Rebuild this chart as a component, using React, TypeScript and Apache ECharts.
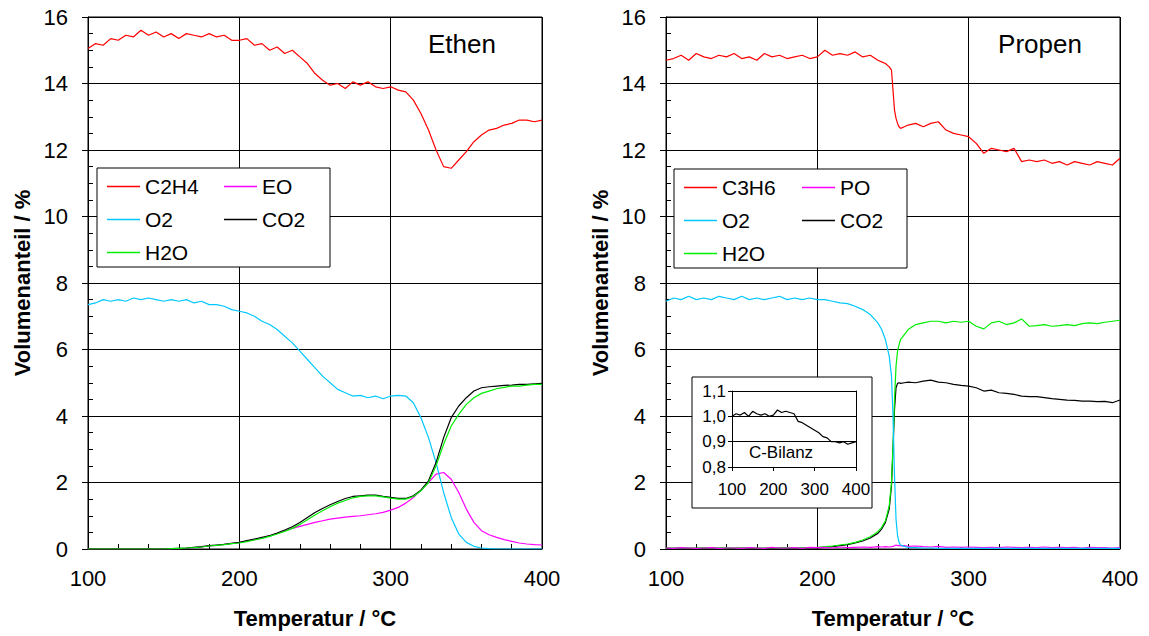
import React, { useEffect, useRef } from "react";
import * as echarts from "echarts";

// ---------- data ----------
const tempsL = [100,105,110,115,120,125,130,135,140,145,150,155,160,165,170,175,180,185,190,195,200,205,210,215,220,225,230,235,240,245,250,255,260,265,270,275,280,285,290,295,300,305,310,315,320,325,330,335,340,345,350,355,360,365,370,375,380,385,390,395,400];

const c2h4L = [15.05,15.2,15.15,15.35,15.3,15.45,15.4,15.6,15.45,15.55,
  15.4,15.5,15.35,15.5,15.45,15.4,15.5,15.4,15.45,15.3,
  15.3,15.35,15.15,15.2,15.0,15.1,14.9,15.0,14.8,14.6,
  14.3,14.1,13.95,14.0,13.85,14.05,13.95,14.05,13.9,13.85,
  13.9,13.8,13.75,13.5,13.1,12.6,12.0,11.5,11.45,11.7,
  11.95,12.25,12.45,12.6,12.65,12.75,12.8,12.9,12.9,12.85,
  12.9];
const o2L = [7.35,7.4,7.5,7.45,7.5,7.45,7.55,7.5,7.55,7.5,
  7.45,7.5,7.45,7.5,7.4,7.45,7.35,7.35,7.3,7.2,
  7.15,7.1,7.0,6.85,6.75,6.6,6.4,6.2,5.95,5.7,
  5.45,5.2,5.0,4.8,4.7,4.6,4.62,4.55,4.6,4.52,
  4.6,4.62,4.6,4.4,3.95,3.35,2.6,1.7,0.95,0.45,
  0.2,0.08,0.03,0.01,0,0,0,0,0,0,
  0];
const co2L = [0,0,0,0,0,0,0,0,0,0,
  0,0.01,0.02,0.03,0.05,0.07,0.1,0.12,0.14,0.17,
  0.2,0.25,0.3,0.35,0.4,0.48,0.57,0.67,0.8,0.95,
  1.1,1.22,1.33,1.43,1.52,1.58,1.6,1.62,1.62,1.58,
  1.55,1.52,1.52,1.6,1.77,2.05,2.6,3.35,3.95,4.3,
  4.55,4.75,4.85,4.88,4.9,4.92,4.93,4.95,4.95,4.97,
  4.98];
const h2oL = [0,0,0,0,0,0,0,0,0,0,
  0,0.01,0.02,0.03,0.04,0.06,0.09,0.11,0.13,0.16,
  0.18,0.22,0.27,0.32,0.38,0.45,0.53,0.62,0.74,0.88,
  1.02,1.15,1.27,1.38,1.46,1.54,1.58,1.6,1.6,1.57,
  1.53,1.5,1.5,1.58,1.75,2.0,2.5,3.15,3.7,4.05,
  4.35,4.55,4.68,4.75,4.82,4.86,4.9,4.9,4.93,4.95,
  4.95];
const eoL = [0,0,0,0,0,0,0,0,0,0,
  0,0,0.01,0.02,0.04,0.06,0.09,0.11,0.14,0.17,
  0.2,0.24,0.28,0.33,0.4,0.47,0.55,0.62,0.68,0.74,
  0.8,0.85,0.9,0.93,0.96,0.98,1.0,1.03,1.06,1.1,
  1.17,1.25,1.38,1.55,1.77,2.0,2.25,2.3,2.1,1.7,
  1.2,0.8,0.55,0.43,0.35,0.28,0.23,0.18,0.15,0.13,
  0.12];

const tempsR = [100,105,110,115,120,125,130,135,140,145,150,155,160,165,170,175,180,185,190,195,200,205,210,215,220,225,230,235,240,
  242.5,245,247.5,249,250,251,252,253,254,255,257.5,
  260,265,270,275,280,285,290,295,300,305,310,315,320,325,330,335,340,345,350,355,360,365,370,375,380,385,390,395,400];

const c3h6R = [14.7,14.75,14.85,14.7,14.9,14.8,14.75,14.85,14.8,14.9,
  14.75,14.8,14.7,14.9,14.8,14.85,14.75,14.8,14.85,14.75,
  14.8,15.0,14.85,14.9,14.85,14.95,14.8,14.85,14.7,
  14.65,14.6,14.5,14.4,13.8,13.2,12.95,12.8,12.7,12.65,12.7,
  12.75,12.8,12.7,12.8,12.85,12.6,12.5,12.45,12.4,12.2,
  11.9,12.05,12.0,11.95,12.05,11.65,11.7,11.65,11.7,11.6,
  11.65,11.55,11.65,11.6,11.55,11.65,11.6,11.55,11.75];
const o2R = [7.45,7.55,7.5,7.6,7.5,7.55,7.5,7.6,7.55,7.5,
  7.6,7.5,7.55,7.5,7.55,7.6,7.5,7.55,7.5,7.55,
  7.5,7.5,7.45,7.4,7.38,7.3,7.2,7.05,6.8,
  6.6,6.3,5.8,5.2,4.0,2.2,0.9,0.4,0.2,0.12,0.08,
  0.05,0.04,0.03,0.03,0.02,0.02,0.02,0.02,0.02,0.02,
  0.02,0.02,0.02,0.02,0.02,0.02,0.02,0.02,0.02,0.02,
  0.02,0.02,0.02,0.02,0.02,0.02,0.02,0.02,0.02];
const h2oR = [0.03,0.03,0.04,0.03,0.03,0.04,0.03,0.03,0.04,0.03,
  0.03,0.04,0.03,0.03,0.04,0.03,0.04,0.03,0.04,0.04,
  0.05,0.07,0.09,0.12,0.15,0.2,0.27,0.37,0.52,
  0.65,0.85,1.3,2.0,3.1,4.5,5.5,5.95,6.15,6.3,6.45,
  6.6,6.75,6.8,6.85,6.85,6.8,6.85,6.82,6.85,6.7,
  6.62,6.8,6.85,6.75,6.8,6.92,6.7,6.72,6.75,6.7,
  6.72,6.75,6.72,6.78,6.8,6.78,6.82,6.85,6.88];
const co2R = [0.02,0.02,0.03,0.02,0.02,0.02,0.03,0.02,0.02,0.02,
  0.03,0.02,0.02,0.02,0.02,0.03,0.02,0.02,0.02,0.03,
  0.03,0.05,0.07,0.1,0.13,0.18,0.24,0.33,0.47,
  0.6,0.8,1.2,1.9,3.0,4.2,4.85,4.98,5.0,4.98,5.0,
  5.02,5.0,5.05,5.08,5.02,5.0,4.95,4.92,4.9,4.85,
  4.75,4.78,4.7,4.68,4.65,4.6,4.58,4.58,4.55,4.52,
  4.5,4.48,4.47,4.45,4.45,4.43,4.44,4.4,4.48];
const poR = [0.03,0.02,0.04,0.03,0.02,0.03,0.04,0.02,0.03,0.03,
  0.02,0.04,0.03,0.02,0.05,0.03,0.03,0.04,0.02,0.05,
  0.04,0.05,0.03,0.06,0.04,0.05,0.06,0.05,0.07,
  0.06,0.07,0.06,0.07,0.08,0.1,0.12,0.1,0.11,0.09,0.1,
  0.08,0.09,0.07,0.06,0.08,0.05,0.06,0.05,0.06,0.05,
  0.04,0.05,0.04,0.06,0.05,0.04,0.05,0.04,0.06,0.04,
  0.05,0.04,0.05,0.03,0.05,0.04,0.04,0.03,0.04];

const tempsC = [100,110,120,130,140,150,160,170,180,190,200,210,220,230,240,250,260,270,280,290,300,310,320,330,340,350,360,370,380,390,400];
const cBilanz = [1.0,1.01,1.005,1.015,1.0,1.02,1.01,1.005,1.01,1.0,
  1.005,1.025,1.015,1.02,1.015,1.01,0.98,0.975,0.965,0.955,
  0.945,0.935,0.92,0.915,0.9,0.9,0.895,0.9,0.89,0.895,
  0.9];

const xTicks = [100, 400, 100]; // min, max, interval
const yTicks = [0, 16, 2];
const insetY = [0.8, 1.1, 0.1];

const COLORS: Record<string, string> = {
  C2H4: "#ff0000", C3H6: "#ff0000", EO: "#ff00ff", PO: "#ff00ff",
  O2: "#00c8ff", CO2: "#000000", H2O: "#00ee00",
};

const FONT = "'Liberation Sans', Arial, sans-serif";

function zip(xs: number[], ys: number[]) {
  return xs.map((x, i) => [x, ys[i]]);
}

export default function App() {
  const ref = useRef<HTMLDivElement>(null);
  useEffect(() => {
    document.body.style.margin = "0";
    const chart = echarts.init(ref.current!, undefined, { renderer: "svg" });

    const mainX = (gi: number) => ({
      gridIndex: gi, type: "value", min: xTicks[0], max: xTicks[1], interval: xTicks[2],
      axisLine: { show: true, lineStyle: { color: "#000", width: 1 } },
      axisTick: { show: false, inside: true },
      minorTick: { show: true, splitNumber: 5, length: 5, lineStyle: { color: "#000", width: 1 } },
      splitLine: { show: true, lineStyle: { color: "#000", width: 1 } },
      axisLabel: { fontSize: 22, color: "#000", margin: 18, fontFamily: FONT },
      name: "Temperatur / °C", nameLocation: "middle", nameGap: 58,
      nameTextStyle: { fontSize: 22, fontWeight: "bold", color: "#000", fontFamily: FONT },
    });
    const mainY = (gi: number) => ({
      gridIndex: gi, type: "value", min: yTicks[0], max: yTicks[1], interval: yTicks[2],
      axisLine: { show: true, lineStyle: { color: "#000", width: 1 } },
      axisTick: { show: true, inside: false, length: 6, lineStyle: { color: "#000" } },
      splitLine: { show: true, lineStyle: { color: "#000", width: 1 } },
      axisLabel: { fontSize: 22, color: "#000", margin: 20, fontFamily: FONT },
      name: "Volumenanteil / %", nameLocation: "middle", nameGap: 55,
      nameTextStyle: { fontSize: 22, fontWeight: "bold", color: "#000", fontFamily: FONT },
    });
    const minorY = (gi: number) => ({
      gridIndex: gi, type: "value", position: "left", min: yTicks[0], max: yTicks[1], interval: yTicks[2],
      axisLine: { show: false },
      axisTick: { show: false, inside: true },
      minorTick: { show: true, splitNumber: 4, length: 5, lineStyle: { color: "#000", width: 1 } },
      splitLine: { show: false },
      axisLabel: { show: false },
    });

    const line = (name: string, xs: number[], ys: number[], xi: number, yi: number, z = 2) => ({
      type: "line", name, data: zip(xs, ys), xAxisIndex: xi, yAxisIndex: yi,
      symbol: "none", showSymbol: false, z,
      lineStyle: { color: COLORS[name], width: 1.2 }, itemStyle: { color: COLORS[name] },
      emphasis: { disabled: true }, silent: true,
    });

    const legendBase = {
      orient: "vertical", icon: "rect", itemWidth: 33, itemHeight: 1.5, itemGap: 12, padding: 0,
      selectedMode: false, z: 10,
      textStyle: { fontSize: 21, color: "#000", lineHeight: 21, fontFamily: FONT },
    };

    const option: any = {
      animation: false,
      textStyle: { fontFamily: FONT },
      grid: [
        { left: 88, top: 17, width: 454, height: 532, show: true, borderColor: "#000", borderWidth: 1, backgroundColor: "#fff" },
        { left: 666, top: 17, width: 454, height: 532, show: true, borderColor: "#000", borderWidth: 1, backgroundColor: "#fff" },
        { left: 732, top: 391, width: 124, height: 76, z: 10 },
      ],
      xAxis: [
        mainX(0),
        mainX(1),
        {
          gridIndex: 2, type: "value", min: xTicks[0], max: xTicks[1], interval: xTicks[2], z: 10,
          axisLine: { show: true, lineStyle: { color: "#000", width: 1 } },
          axisTick: { show: true, length: 4, lineStyle: { color: "#000" } },
          splitLine: { show: false },
          axisLabel: { fontSize: 17, color: "#000", margin: 14, fontFamily: FONT },
        },
      ],
      yAxis: [
        mainY(0), minorY(0),
        mainY(1), minorY(1),
        {
          gridIndex: 2, type: "value", min: insetY[0], max: insetY[1], interval: insetY[2], z: 10,
          axisLine: { show: true, lineStyle: { color: "#000", width: 1 } },
          axisTick: { show: true, length: 4, lineStyle: { color: "#000" } },
          splitLine: { show: true, lineStyle: { color: "#000", width: 1 } },
          axisLabel: { fontSize: 17, color: "#000", margin: 6, fontFamily: FONT,
            formatter: (v: number) => v.toFixed(1).replace(".", ",") },
        },
        {
          gridIndex: 2, type: "value", position: "right", min: insetY[0], max: insetY[1], interval: insetY[2], z: 10,
          axisLine: { show: true, lineStyle: { color: "#000", width: 1 } },
          axisTick: { show: false }, splitLine: { show: false }, axisLabel: { show: false },
        },
      ],
      legend: [
        { ...legendBase, left: 107, top: 176, data: ["C2H4", "O2", "H2O"] },
        { ...legendBase, left: 224, top: 176, data: ["EO", "CO2"] },
        { ...legendBase, left: 684, top: 177, data: ["C3H6", "O2", "H2O"] },
        { ...legendBase, left: 802, top: 177, data: ["PO", "CO2"] },
      ],
      graphic: [
        { type: "rect", z: 5, shape: { x: 97, y: 168, width: 233, height: 99 }, style: { fill: "#fff", stroke: "#000", lineWidth: 1 } },
        { type: "rect", z: 5, shape: { x: 674, y: 169, width: 233, height: 99 }, style: { fill: "#fff", stroke: "#000", lineWidth: 1 } },
        { type: "rect", z: 5, shape: { x: 692, y: 377, width: 180, height: 131 }, style: { fill: "#fff", stroke: "#000", lineWidth: 1 } },
        { type: "text", z: 12, x: 462, y: 44, style: { text: "Ethen", font: `26px ${FONT}`, fill: "#000", textAlign: "center", textVerticalAlign: "middle" } },
        { type: "text", z: 12, x: 1040, y: 44, style: { text: "Propen", font: `26px ${FONT}`, fill: "#000", textAlign: "center", textVerticalAlign: "middle" } },
        { type: "text", z: 12, x: 781, y: 452, style: { text: "C-Bilanz", font: `17px ${FONT}`, fill: "#000", textAlign: "center", textVerticalAlign: "middle" } },
      ],
      series: [
        line("C2H4", tempsL, c2h4L, 0, 0),
        line("EO", tempsL, eoL, 0, 0),
        line("O2", tempsL, o2L, 0, 0),
        line("CO2", tempsL, co2L, 0, 0),
        line("H2O", tempsL, h2oL, 0, 0),
        line("C3H6", tempsR, c3h6R, 1, 2),
        line("CO2", tempsR, co2R, 1, 2),
        line("H2O", tempsR, h2oR, 1, 2),
        line("PO", tempsR, poR, 1, 2),
        line("O2", tempsR, o2R, 1, 2),
        { ...line("CO2", tempsC, cBilanz, 2, 4, 11), name: "C-Bilanz" },
      ],
    };
    chart.setOption(option);
    return () => chart.dispose();
  }, []);
  return <div ref={ref} style={{ width: 1149, height: 636 }} />;
}
